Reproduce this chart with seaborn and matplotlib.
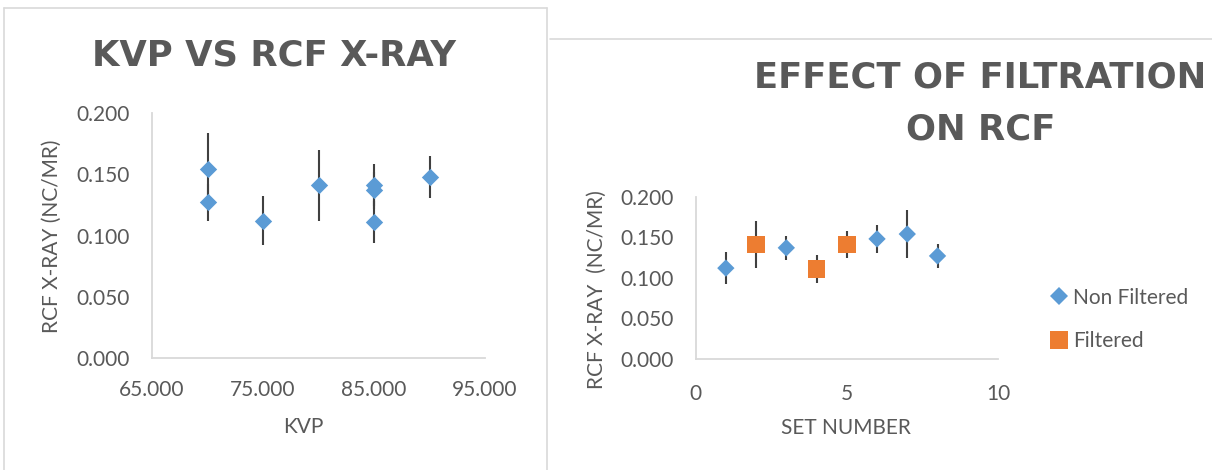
import matplotlib
matplotlib.use("Agg")
import matplotlib.pyplot as plt
from matplotlib.lines import Line2D
import seaborn as sns
import pandas as pd

# Measurements per exposure set
set_number = [1, 2, 3, 4, 5, 6, 7, 8]
kvp = [75, 80, 85, 85, 85, 90, 70, 70]
rcf = [0.112, 0.141, 0.137, 0.111, 0.141, 0.148, 0.154, 0.127]
rcf_err = [0.020, 0.029, 0.015, 0.017, 0.017, 0.017, 0.030, 0.015]
condition = ["Non Filtered", "Filtered", "Non Filtered", "Filtered",
             "Filtered", "Non Filtered", "Non Filtered", "Non Filtered"]

kvp_ticks = [65, 75, 85, 95]
set_ticks = [0, 5, 10]
rcf_ticks = [0.0, 0.05, 0.10, 0.15, 0.20]

df = pd.DataFrame({"set": set_number, "kvp": kvp, "rcf": rcf,
                   "err": rcf_err, "condition": condition})

sns.set_theme(style="white")
plt.rcParams["font.family"] = ["Lato", "DejaVu Sans"]

BLUE = "#5B9BD5"
ORANGE = "#ED7D31"
TXT = "#595959"
GRID = "#D9D9D9"
ERR = "#404040"
TITLE_FONT = ["DejaVu Sans"]
TITLE_SIZE = 25.5

W, H = 1212, 470
fig = plt.figure(figsize=(W / 100, H / 100), dpi=100)


def fx(px):
    return px / W


def fy(py):
    return 1 - py / H


def style_axes(ax, xpad, ypad):
    for s in ("top", "right"):
        ax.spines[s].set_visible(False)
    for s in ("left", "bottom"):
        ax.spines[s].set_color(GRID)
        ax.spines[s].set_linewidth(1.3)
    ax.tick_params(axis="both", length=0, labelsize=15, colors=TXT)
    ax.tick_params(axis="x", pad=xpad)
    ax.tick_params(axis="y", pad=ypad)
    ax.set_ylim(0, 0.2)
    ax.set_yticks(rcf_ticks)
    ax.set_yticklabels([f"{v:.3f}" for v in rcf_ticks])
    ax.set_xlabel("")
    ax.set_ylabel("")
    ax.grid(False)


# ---- Left chart: KVP vs RCF ----
ax1 = fig.add_axes([fx(152), fy(358), fx(485) - fx(152), fy(113) - fy(358)])
ax1.errorbar(df["kvp"], df["rcf"], yerr=df["err"], fmt="none",
             ecolor=ERR, elinewidth=1.5, capsize=0, zorder=2)
sns.scatterplot(data=df, x="kvp", y="rcf", marker="D", s=78, color=BLUE,
                linewidth=0, ax=ax1, zorder=3, legend=False)
ax1.set_xlim(65, 95)
ax1.set_xticks(kvp_ticks)
ax1.set_xticklabels([f"{v:.3f}" for v in kvp_ticks])
style_axes(ax1, xpad=16, ypad=16)

fig.text(fx(274), fy(56), "KVP VS RCF X-RAY", ha="center", va="center",
         fontsize=TITLE_SIZE, fontweight="bold", color=TXT, family=TITLE_FONT)
fig.text(fx(303), fy(427), "KVP", ha="center", va="center",
         fontsize=15, color=TXT)
fig.text(fx(52), fy(236), "RCF X-RAY (NC/MR)", ha="center", va="center",
         rotation=90, fontsize=15, color=TXT)

# ---- Right chart: effect of filtration ----
ax2 = fig.add_axes([fx(695.6), fy(359), fx(998) - fx(695.6), fy(196.7) - fy(359)])
ax2.errorbar(df["set"], df["rcf"], yerr=df["err"], fmt="none",
             ecolor=ERR, elinewidth=1.5, capsize=0, zorder=2)
sns.scatterplot(data=df, x="set", y="rcf", hue="condition", style="condition",
                hue_order=["Non Filtered", "Filtered"],
                palette={"Non Filtered": BLUE, "Filtered": ORANGE},
                markers={"Non Filtered": "D", "Filtered": "s"},
                size="condition",
                sizes={"Non Filtered": 78, "Filtered": 165},
                linewidth=0, ax=ax2, zorder=3, legend=False)
ax2.set_xlim(0, 10)
ax2.set_xticks(set_ticks)
ax2.set_xticklabels([str(v) for v in set_ticks])
style_axes(ax2, xpad=18, ypad=16)

handles = [
    Line2D([], [], marker="D", linestyle="none", markersize=8.8,
           markerfacecolor=BLUE, markeredgewidth=0),
    Line2D([], [], marker="s", linestyle="none", markersize=12.5,
           markerfacecolor=ORANGE, markeredgewidth=0),
]
fig.legend(handles, ["Non Filtered", "Filtered"], loc="center left",
           bbox_to_anchor=(fx(1049), fy(319.5)), frameon=False,
           fontsize=15, labelcolor=TXT, handlelength=1.0,
           handletextpad=0.15, labelspacing=1.15, borderpad=0,
           borderaxespad=0)

fig.text(fx(980), fy(77), "EFFECT OF FILTRATION", ha="center", va="center",
         fontsize=TITLE_SIZE, fontweight="bold", color=TXT, family=TITLE_FONT)
fig.text(fx(981), fy(129), "ON RCF", ha="center", va="center",
         fontsize=TITLE_SIZE, fontweight="bold", color=TXT, family=TITLE_FONT)
fig.text(fx(846), fy(428), "SET NUMBER", ha="center", va="center",
         fontsize=15, color=TXT)
fig.text(fx(597), fy(290), "RCF X-RAY  (NC/MR)", ha="center", va="center",
         rotation=90, fontsize=15, color=TXT)

# ---- Chart frames ----
frame = dict(color=GRID, linewidth=1.2, transform=fig.transFigure)
fig.add_artist(Line2D([fx(3.5), fx(3.5)], [0, fy(7.5)], **frame))
fig.add_artist(Line2D([fx(3.5), fx(547)], [fy(7.5), fy(7.5)], **frame))
fig.add_artist(Line2D([fx(547), fx(547)], [0, fy(7.5)], **frame))
fig.add_artist(Line2D([fx(550), 1], [fy(39), fy(39)], **frame))

fig.savefig("out.png", dpi=100)
